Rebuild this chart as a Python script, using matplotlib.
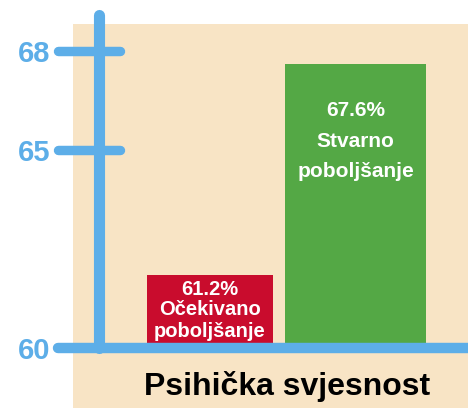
import matplotlib.pyplot as plt
from matplotlib.patches import Rectangle
import matplotlib.transforms as mtransforms
import numpy as np

categories = ['Očekivano\npoboljšanje', 'Stvarno\npoboljšanje']
values = [61.2, 67.6]
bar_colors = ['#C90C2D', '#54A845']
ytick_values = [60, 65, 68]
title = 'Psihička svjesnost'

blue = '#5DAEE8'
beige = '#F8E4C5'


# first unit of the axis is stretched (broken-axis look of the infographic)
def fwd(y):
    return np.interp(y, [60, 61, 70], [0, 2, 11])


def inv(s):
    return np.interp(s, [0, 2, 11], [60, 61, 70])


fig = plt.figure(figsize=(4.68, 4.08), dpi=100)
fig.patch.set_facecolor('white')
fig.add_artist(Rectangle((73 / 468, 0), 1, 1 - 24 / 408, transform=fig.transFigure,
                         facecolor=beige, edgecolor='none', zorder=0))

ax = fig.add_axes([99 / 468, 60 / 408, 369 / 468, 333 / 408])
ax.set_facecolor('none')
ax.set_yscale('function', functions=(fwd, inv))
ytop = 69.09
ax.set_ylim(60, ytop)
ax.set_xlim(-0.76, 1.77)
for s in ax.spines.values():
    s.set_visible(False)

xpos = np.arange(len(values))
widths = [0.86, 0.97]
ax.bar(xpos, [v - 60 for v in values], bottom=60, width=widths,
       color=bar_colors, zorder=2)

# in-bar labels
red_font = dict(family=['Liberation Sans', 'DejaVu Sans'], weight='bold', size=14.5)
green_font = dict(family=['Liberation Sans', 'DejaVu Sans'], weight='bold', size=15)
styles = [(red_font, [20, 40, 62]), (green_font, [52, 83, 113])]
for x, v, name, (font, offs) in zip(xpos, values, categories, styles):
    lines = [f'{v}%'] + name.split('\n')
    for line, off in zip(lines, offs):
        ax.annotate(line, xy=(x, v), xytext=(0, -off * 0.72), textcoords='offset points',
                    ha='center', va='baseline', color='white', zorder=3, **font)

# axis drawn as thick rounded lines
trans = mtransforms.blended_transform_factory(ax.transAxes, ax.transData)
ax.plot([0, 0], [60, ytop], color=blue, lw=8, solid_capstyle='round',
        transform=trans, clip_on=False, zorder=4)
ax.plot([-41 / 369, 1.02], [60, 60], color=blue, lw=7.5, solid_capstyle='round',
        transform=trans, clip_on=False, zorder=4)
for t in ytick_values[1:]:
    ax.plot([-41 / 369, 21 / 369], [t, t], color=blue, lw=6.8, solid_capstyle='round',
            transform=trans, clip_on=False, zorder=4)

ax.set_xticks([])
ax.set_yticks(ytick_values)
ax.set_yticklabels([str(t) for t in ytick_values])
ax.yaxis.set_minor_locator(plt.NullLocator())
ax.tick_params(axis='y', length=0, pad=35, labelcolor=blue, labelsize=21)
for lab in ax.get_yticklabels():
    lab.set_family(['Liberation Sans', 'DejaVu Sans'])
    lab.set_weight('bold')

fig.text(287 / 468, 1 - 395 / 408, title, ha='center', va='baseline',
         family=['Liberation Sans', 'DejaVu Sans'],
         weight='bold', size=23, color='black')

fig.savefig('out.png', dpi=100)
